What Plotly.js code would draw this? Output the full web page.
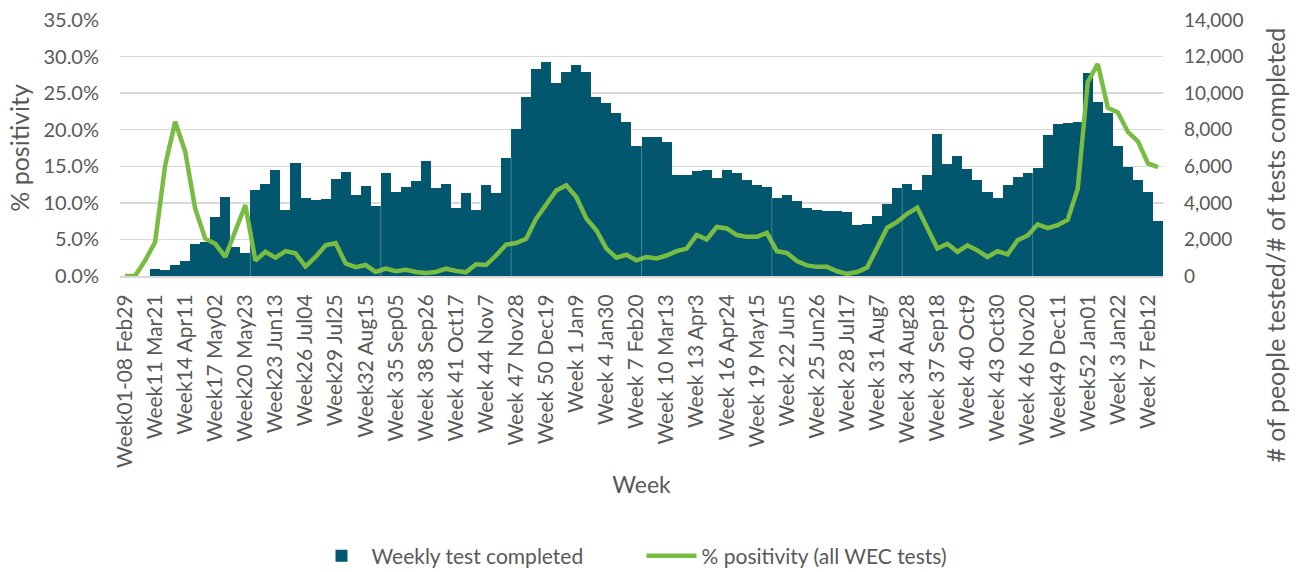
<!DOCTYPE html>
<html>
<head>
<meta charset="utf-8">
<script src="https://cdn.plot.ly/plotly-3.0.1.min.js"></script>
<style>
  html, body { margin: 0; padding: 0; background: #fff; }
  #chart { width: 1300px; height: 572px; }
</style>
</head>
<body>
<div id="chart"></div>
<script>
var weeks = [
  "Week01-08 Feb29", "Week09 Mar07", "Week10 Mar14", "Week11 Mar21", "Week12 Mar28", "Week13 Apr04",
  "Week14 Apr11", "Week15 Apr18", "Week16 Apr25", "Week17 May02", "Week18 May09", "Week19 May16",
  "Week20 May23", "Week21 May30", "Week22 Jun06", "Week23 Jun13", "Week24 Jun20", "Week25 Jun27",
  "Week26 Jul04", "Week27 Jul11", "Week28 Jul18", "Week29 Jul25", "Week30 Aug01", "Week31 Aug08",
  "Week32 Aug15", "Week33 Aug22", "Week34 Aug29", "Week 35 Sep05", "Week 36 Sep12", "Week 37 Sep19",
  "Week 38 Sep26", "Week 39 Oct03", "Week 40 Oct10", "Week 41 Oct17", "Week 42 Oct24", "Week 43 Oct31",
  "Week 44 Nov7", "Week 45 Nov14", "Week 46 Nov21", "Week 47 Nov28", "Week 48 Dec5", "Week 49 Dec12",
  "Week 50 Dec19", "Week 51 Dec26", "Week 53 Jan2", "Week 1 Jan9", "Week 2 Jan16", "Week 3 Jan23",
  "Week 4 Jan30", "Week 5 Feb6", "Week 6 Feb13", "Week 7 Feb20", "Week 8 Feb27", "Week 9 Mar6",
  "Week 10 Mar13", "Week 11 Mar20", "Week 12 Mar27", "Week 13 Apr3", "Week 14 Apr10", "Week 15 Apr17",
  "Week 16 Apr24", "Week 17 May1", "Week 18 May8", "Week 19 May15", "Week 20 May22", "Week 21 May29",
  "Week 22 Jun5", "Week 23 Jun12", "Week 24 Jun19", "Week 25 Jun26", "Week 26 Jul3", "Week 27 Jul10",
  "Week 28 Jul17", "Week 29 Jul24", "Week 30 Jul31", "Week 31 Aug7", "Week 32 Aug14", "Week 33 Aug21",
  "Week 34 Aug28", "Week 35 Sep4", "Week 36 Sep11", "Week 37 Sep18", "Week 38 Sep25", "Week 39 Oct2",
  "Week 40 Oct9", "Week 41 Oct16", "Week 42 Oct23", "Week 43 Oct30", "Week 44 Nov6", "Week 45 Nov13",
  "Week 46 Nov20", "Week 47 Nov27", "Week 48 Dec4", "Week49 Dec11", "Week50 Dec18", "Week51 Dec25",
  "Week52 Jan01", "Week 1 Jan08", "Week 2 Jan15", "Week 3 Jan22", "Week 4 Jan29", "Week 5 Feb05",
  "Week 7 Feb12", "Week 8 Feb19"
];

// # of tests completed per week (right axis)
var testsCompleted = [
  0, 0, 0, 400, 350, 585, 800, 1770, 1860, 3230, 4325, 1590,
  1260, 4730, 5020, 5785, 3595, 6190, 4290, 4140, 4235, 5330, 5690, 4450,
  4930, 3815, 5660, 4600, 4870, 5185, 6300, 4820, 5055, 3720, 4545, 3630,
  5000, 4525, 6480, 8065, 9800, 11330, 11715, 10530, 11130, 11535, 11170, 9765,
  9435, 8890, 8395, 7100, 7575, 7610, 7335, 5550, 5550, 5730, 5785, 5365,
  5820, 5660, 5240, 4965, 4870, 4290, 4415, 4090, 3740, 3630, 3560, 3540,
  3485, 2810, 2850, 3285, 3960, 4820, 5055, 4690, 5510, 7790, 6150, 6570,
  5875, 5240, 4600, 4290, 4965, 5420, 5640, 5915, 7700, 8340, 8360, 8395,
  11080, 9525, 8890, 7100, 5970, 5240, 4600, 3010
];

// % positivity, all WEC tests (left axis)
var positivity = [
  0, 0, 2.1, 4.65, 15.1, 21.1, 17.0, 9.2, 5.1, 4.4, 2.6, 6.2,
  9.7, 2.1, 3.3, 2.5, 3.4, 3.1, 1.3, 2.6, 4.2, 4.5, 1.7, 1.2,
  1.5, 0.55, 1.0, 0.65, 0.85, 0.55, 0.4, 0.55, 1.0, 0.7, 0.5, 1.6,
  1.5, 2.8, 4.3, 4.5, 5.1, 7.85, 9.9, 11.7, 12.4, 10.8, 7.85, 6.25,
  3.75, 2.5, 2.9, 2.15, 2.6, 2.4, 2.8, 3.4, 3.75, 5.6, 5.0, 6.7,
  6.5, 5.6, 5.35, 5.35, 5.9, 3.4, 3.15, 2.05, 1.45, 1.25, 1.25, 0.65,
  0.3, 0.55, 1.15, 3.9, 6.6, 7.4, 8.5, 9.35, 6.7, 3.75, 4.4, 3.3,
  4.2, 3.5, 2.6, 3.4, 2.95, 4.9, 5.55, 7.05, 6.55, 6.95, 7.7, 11.95,
  26.55, 29.0, 23.0, 22.35, 19.7, 18.4, 15.4, 14.9
];

var shownTicks = weeks.filter((w, i) => i % 3 === 0);

var font = "Lato, 'Open Sans', sans-serif";
var grey = "#595959";

var bars = {
  name: "Weekly test completed",
  type: "bar",
  x: weeks,
  y: testsCompleted,
  yaxis: "y",
  marker: { color: "#02566d", line: { width: 0 } },
  hoverinfo: "x+y"
};

var line = {
  name: "% positivity (all WEC tests)",
  type: "scatter",
  mode: "lines",
  x: weeks,
  y: positivity,
  yaxis: "y2",
  line: { color: "#78bc42", width: 4.5 },
  hoverinfo: "x+y"
};

// faint separators every 13 weeks, only visible inside the bars
var seps = [];
for (var k = 13; k < weeks.length; k += 13) {
  seps.push({
    type: "line", xref: "x", yref: "y",
    x0: k - 0.5, x1: k - 0.5, y0: 0,
    y1: Math.min(testsCompleted[k - 1], testsCompleted[k]),
    layer: "above",
    line: { color: "rgba(150,185,200,0.45)", width: 1 }
  });
}

var layout = {
  width: 1300,
  height: 572,
  margin: { l: 120, r: 137, t: 20, b: 296, autoexpand: false },
  paper_bgcolor: "#ffffff",
  plot_bgcolor: "#ffffff",
  font: { family: font, color: grey, size: 20 },
  bargap: 0,
  showlegend: true,
  legend: {
    orientation: "h",
    x: 0.5, xanchor: "center",
    y: -1.094, yanchor: "middle",
    font: { size: 21, color: grey },
    itemwidth: 50,
    entrywidth: 265,
    entrywidthmode: "pixels"
  },
  xaxis: {
    type: "category",
    automargin: false,
    tickmode: "array",
    tickvals: shownTicks,
    ticktext: shownTicks,
    tickangle: -90,
    tickfont: { size: 21, color: grey },
    ticks: "",
    ticklabelstandoff: 8,
    showgrid: false,
    showline: true,
    linecolor: "#d9d9d9",
    linewidth: 2,
    range: [-0.5, weeks.length - 0.5],
    title: { text: "Week", font: { size: 23, color: grey }, standoff: 10 }
  },
  yaxis: {
    side: "right",
    automargin: false,
    range: [0, 14000],
    dtick: 2000,
    tickformat: ",d",
    showgrid: true,
    gridcolor: "#d9d9d9",
    gridwidth: 1.5,
    zeroline: false,
    ticks: "",
    ticklabelstandoff: 20,
    tickfont: { size: 19, color: grey }
  },
  yaxis2: {
    overlaying: "y",
    side: "left",
    automargin: false,
    range: [0, 35],
    dtick: 5,
    tickformat: ".1f",
    ticksuffix: "%",
    showgrid: false,
    zeroline: false,
    ticks: "",
    ticklabelstandoff: 20,
    tickfont: { size: 20, color: grey },
    title: { text: "% positivity", font: { size: 25, color: grey }, standoff: 6 }
  },
  annotations: [{
    text: "# of people tested/# of tests completed",
    xref: "paper", yref: "paper",
    x: 1.107, y: 0.121,
    xanchor: "center", yanchor: "middle",
    textangle: -90,
    showarrow: false,
    font: { size: 25, color: grey }
  }],
  shapes: seps
};

Plotly.newPlot("chart", [bars, line], layout, { displayModeBar: false, staticPlot: true });
</script>
</body>
</html>
